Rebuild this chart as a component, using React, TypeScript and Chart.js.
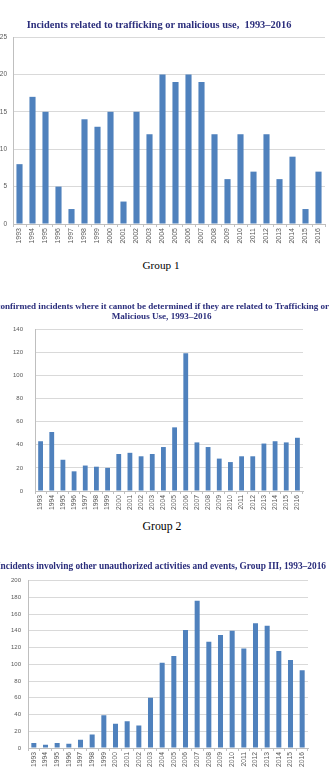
import React, { useEffect, useRef, useMemo } from "react";
import { Chart, registerables } from "chart.js";
Chart.register(...registerables);

// ---------- DATA ----------
const years = [
  "1993", "1994", "1995", "1996", "1997", "1998", "1999", "2000",
  "2001", "2002", "2003", "2004", "2005", "2006", "2007", "2008",
  "2009", "2010", "2011", "2012", "2013", "2014", "2015", "2016",
];
const group1Values = [8, 17, 15, 5, 2, 14, 13, 15, 3, 15, 12, 20, 19, 20, 19, 12, 6, 12, 7, 12, 6, 9, 2, 7];
const group2Values = [43, 51, 27, 17, 22, 21, 20, 32, 33, 30, 32, 38, 55, 119, 42, 38, 28, 25, 30, 30, 41, 43, 42, 46];
const group3Values = [6, 4, 6, 5, 10, 16, 39, 29, 32, 27, 60, 102, 110, 141, 176, 127, 135, 140, 119, 149, 146, 116, 105, 93];

const group1YTicks = [0, 5, 10, 15, 20, 25];
const group2YTicks = [0, 20, 40, 60, 80, 100, 120, 140];
const group3YTicks = [0, 20, 40, 60, 80, 100, 120, 140, 160, 180, 200];

const title1 = "Incidents related to trafficking or malicious use,  1993\u20132016";
const title2a = "Unconfirmed incidents where it cannot be determined if they are related to Trafficking or";
const title2b = "Malicious Use, 1993\u20132016";
const title3 = "Incidents involving other unauthorized activities and events, Group III, 1993\u20132016";
const caption1 = "Group 1";
const caption2 = "Group 2";

// ---------- STYLE ----------
const BAR = "#4F81BD";
const TITLE_COLOR = "#2B2E7C";
const TICK_COLOR = "#595959";
const GRID = "#D9D9D9";
const AXIS = "#BFBFBF";
const SERIF = "'Liberation Serif', 'Times New Roman', serif";
const SANS = "'Liberation Sans', Arial, sans-serif";

type Layout = {
  top: number; height: number; padTop: number; padRight: number;
  yWidth: number; yPad: number; xHeight: number; yFont: number; xFont: number; barPct: number;
};

const layout1: Layout = { top: 0, height: 250, padTop: 37, padRight: 5, yWidth: 13, yPad: 6, xHeight: 26, yFont: 6.5, xFont: 7, barPct: 0.47 };
const layout2: Layout = { top: 300, height: 215, padTop: 29, padRight: 27, yWidth: 35, yPad: 12, xHeight: 24, yFont: 6, xFont: 6.8, barPct: 0.43 };
const layout3: Layout = { top: 570, height: 201, padTop: 9, padRight: 22, yWidth: 28, yPad: 7, xHeight: 23, yFont: 6, xFont: 6.8, barPct: 0.43 };

function BarPanel({ values, yTicks, layout }: { values: number[]; yTicks: number[]; layout: Layout }) {
  const ref = useRef<HTMLCanvasElement>(null);
  useEffect(() => {
    const max = yTicks[yTicks.length - 1];
    const step = yTicks[1] - yTicks[0];
    const chart = new Chart(ref.current!, {
      type: "bar",
      data: {
        labels: years,
        datasets: [{
          data: values,
          backgroundColor: BAR,
          borderWidth: 0,
          barPercentage: layout.barPct,
          categoryPercentage: 1,
        }],
      },
      options: {
        responsive: false,
        animation: false,
        devicePixelRatio: 1,
        layout: { padding: { top: layout.padTop, right: layout.padRight, left: 0, bottom: 0 } },
        plugins: { legend: { display: false }, tooltip: { enabled: false }, title: { display: false } },
        scales: {
          x: {
            grid: { drawOnChartArea: false, drawTicks: true, tickLength: 3, color: AXIS, offset: true },
            border: { display: true, color: AXIS },
            ticks: {
              minRotation: 90, maxRotation: 90, autoSkip: false, padding: 1,
              color: TICK_COLOR, font: { family: SANS, size: layout.xFont },
            },
            afterFit: (s: any) => { s.height = layout.xHeight; },
          },
          y: {
            min: 0, max,
            ticks: { stepSize: step, padding: layout.yPad, color: TICK_COLOR, font: { family: SANS, size: layout.yFont } },
            grid: { drawTicks: false, color: GRID },
            border: { display: true, color: AXIS },
            afterFit: (s: any) => { s.width = layout.yWidth; },
          },
        },
      } as any,
    });
    return () => chart.destroy();
  }, []);
  return (
    <canvas
      ref={ref}
      width={330}
      height={layout.height}
      style={{ position: "absolute", left: 0, top: layout.top, width: 330, height: layout.height }}
    />
  );
}

function fitSize(text: string, weight: string, family: string, width: number) {
  const ctx = document.createElement("canvas").getContext("2d")!;
  ctx.font = `${weight} 100px ${family}`;
  return (100 * width) / ctx.measureText(text).width;
}

function TextLine({ text, fitText, fitWidth, cy, cx, right, weight, color }: {
  text: string; fitText: string; fitWidth: number; cy: number; cx?: number; right?: number; weight: string; color: string;
}) {
  const size = useMemo(() => fitSize(fitText, weight, SERIF, fitWidth), [fitText, fitWidth, weight]);
  const lh = Math.round(size * 1.2);
  const style: React.CSSProperties = {
    position: "absolute",
    top: cy - lh / 2,
    height: lh,
    lineHeight: `${lh}px`,
    fontFamily: SERIF,
    fontWeight: weight as any,
    fontSize: size,
    color,
    whiteSpace: "pre",
    width: 800,
  };
  if (right !== undefined) {
    style.left = right - 800;
    style.textAlign = "right";
  } else {
    style.left = (cx ?? 165) - 400;
    style.textAlign = "center";
  }
  return <div style={style}>{text}</div>;
}

export default function App() {
  return (
    <div style={{ position: "absolute", left: 0, top: 0, width: 330, height: 771, overflow: "hidden", background: "#fff" }}>
      <BarPanel values={group1Values} yTicks={group1YTicks} layout={layout1} />
      <BarPanel values={group2Values} yTicks={group2YTicks} layout={layout2} />
      <BarPanel values={group3Values} yTicks={group3YTicks} layout={layout3} />

      <TextLine text={title1} fitText={title1} fitWidth={265} cx={159} cy={24.5} weight="bold" color={TITLE_COLOR} />
      <TextLine text={caption1} fitText={caption1} fitWidth={37} cx={161} cy={265} weight="normal" color="#000" />

      <TextLine text={title2a} fitText={title2a.slice(3)} fitWidth={329} right={329} cy={306} weight="bold" color={TITLE_COLOR} />
      <TextLine text={title2b} fitText={title2b} fitWidth={100} cx={161.7} cy={316} weight="bold" color={TITLE_COLOR} />
      <TextLine text={caption2} fitText={caption2} fitWidth={39} cx={162} cy={526} weight="normal" color="#000" />

      <TextLine text={title3} fitText={title3.slice(1)} fitWidth={326} right={326} cy={566.5} weight="bold" color={TITLE_COLOR} />
    </div>
  );
}
